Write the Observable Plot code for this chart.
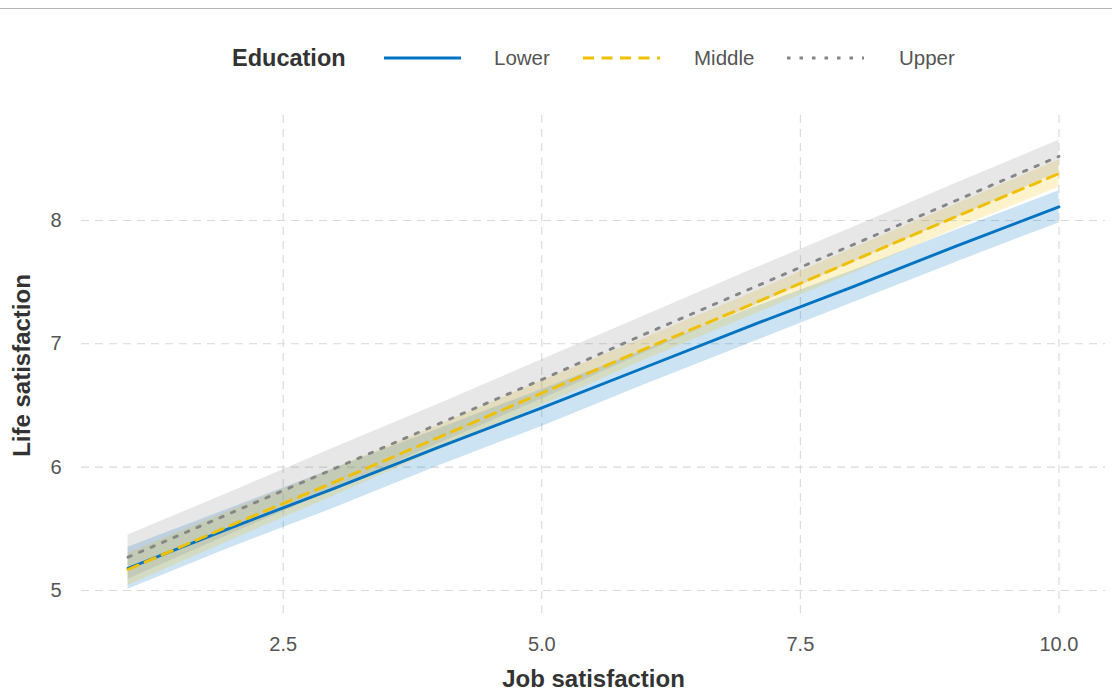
<!DOCTYPE html>
<html>
<head>
<meta charset="utf-8">
<script src="https://cdn.jsdelivr.net/npm/d3@7"></script>
<script src="https://cdn.jsdelivr.net/npm/@observablehq/plot@0.6"></script>
<style>
  html, body { margin: 0; padding: 0; background: #fff; }
  body { width: 1112px; height: 693px; overflow: hidden; font-family: "Liberation Sans", Arial, sans-serif; }
  #topline { position: absolute; left: 0; top: 8px; width: 1112px; height: 0; border-top: 1.5px solid #b4b4b4; }
  #legend { position: relative; width: 1112px; height: 95px; }
  #legend .item { position: absolute; top: 58px; transform: translateY(-50%); white-space: nowrap; }
  #legend .title { font-size: 23.5px; font-weight: bold; color: #333; }
  #legend .lab { font-size: 20.5px; color: #555; }
  #legend svg { display: block; }
</style>
</head>
<body>
<div id="topline"></div>
<div id="legend"></div>
<div id="chart"></div>
<script>
// ---- data ----
const education = ["Lower", "Middle", "Upper"];
const colors = ["#0073C2", "#EFC000", "#868686"];
const dashes = [null, "11,7.5", "3.5,9"];

const jobSatisfaction = [1, 2, 3, 4, 5, 6, 7, 8, 9, 10];

const lowerFit = [5.18, 5.51, 5.83, 6.16, 6.48, 6.81, 7.14, 7.46, 7.79, 8.11];
const lowerHalf = [0.17, 0.16, 0.16, 0.15, 0.15, 0.14, 0.14, 0.13, 0.13, 0.13];

const middleFit = [5.17, 5.53, 5.88, 6.24, 6.60, 6.96, 7.31, 7.67, 8.03, 8.38];
const middleHalf = [0.13, 0.12, 0.11, 0.10, 0.10, 0.09, 0.09, 0.10, 0.10, 0.11];

const upperFit = [5.27, 5.63, 5.99, 6.35, 6.71, 7.08, 7.44, 7.80, 8.16, 8.52];
const upperHalf = [0.18, 0.17, 0.17, 0.16, 0.16, 0.15, 0.15, 0.14, 0.14, 0.13];

const xTicks = [2.5, 5.0, 7.5, 10.0];
const yTicks = [5, 6, 7, 8];

// ---- build table ----
const fits = [lowerFit, middleFit, upperFit];
const halves = [lowerHalf, middleHalf, upperHalf];
const rows = [];
education.forEach((e, i) => {
  jobSatisfaction.forEach((x, j) => {
    rows.push({edu: e, x, fit: fits[i][j], lo: fits[i][j] - halves[i][j], hi: fits[i][j] + halves[i][j]});
  });
});

// ---- legend ----
const legend = document.getElementById("legend");
function addItem(left, html, cls) {
  const d = document.createElement("div");
  d.className = "item " + (cls || "");
  d.style.left = left + "px";
  d.innerHTML = html;
  legend.appendChild(d);
}
addItem(232, "Education", "title");
const keyLeft = [384, 583, 787];
const labLeft = [494, 694, 899];
education.forEach((e, i) => {
  const da = dashes[i] ? `stroke-dasharray="${dashes[i]}"` : "";
  addItem(keyLeft[i], `<svg width="77" height="10"><line x1="0" x2="77" y1="5" y2="5" stroke="${colors[i]}" stroke-width="2.8" ${da}/></svg>`);
  addItem(labLeft[i], e, "lab");
});

// ---- chart ----
const lineMarks = education.map((e, i) =>
  Plot.line(rows.filter(r => r.edu === e), {
    x: "x", y: "fit", stroke: colors[i], strokeWidth: 2.9,
    strokeDasharray: dashes[i] || undefined
  })
);

const chart = Plot.plot({
  width: 1112,
  height: 598,
  marginLeft: 81,
  marginRight: 7,
  marginTop: 20,
  marginBottom: 78,
  style: {fontFamily: "'Liberation Sans', Arial, sans-serif", background: "#fff"},
  x: {domain: [0.55, 10.45]},
  y: {domain: [4.797, 8.851]},
  color: {domain: education, range: colors},
  marks: [
    Plot.gridX(xTicks, {stroke: "#d9d9d9", strokeOpacity: 1, strokeWidth: 1.1, strokeDasharray: "8,6"}),
    Plot.gridY(yTicks, {stroke: "#d9d9d9", strokeOpacity: 1, strokeWidth: 1.1, strokeDasharray: "8,6"}),
    Plot.areaY(rows, {x: "x", y1: "lo", y2: "hi", z: "edu", fill: "edu", fillOpacity: 0.2}),
    ...lineMarks,
    Plot.axisX(xTicks, {tickSize: 0, tickPadding: 21, tickFormat: d3.format(".1f"), fontSize: 20, fill: "#555", label: null}),
    Plot.axisY(yTicks, {tickSize: 0, tickPadding: 20, tickFormat: d3.format("d"), fontSize: 20, fill: "#555", label: null}),
    Plot.text(["Job satisfaction"], {frameAnchor: "bottom", dy: 71, fontSize: 24, fontWeight: "bold", fill: "#333"}),
    Plot.text(["Life satisfaction"], {frameAnchor: "left", textAnchor: "middle", dx: -59, rotate: -90, fontSize: 24, fontWeight: "bold", fill: "#333"})
  ]
});
document.getElementById("chart").appendChild(chart);
</script>
</body>
</html>
